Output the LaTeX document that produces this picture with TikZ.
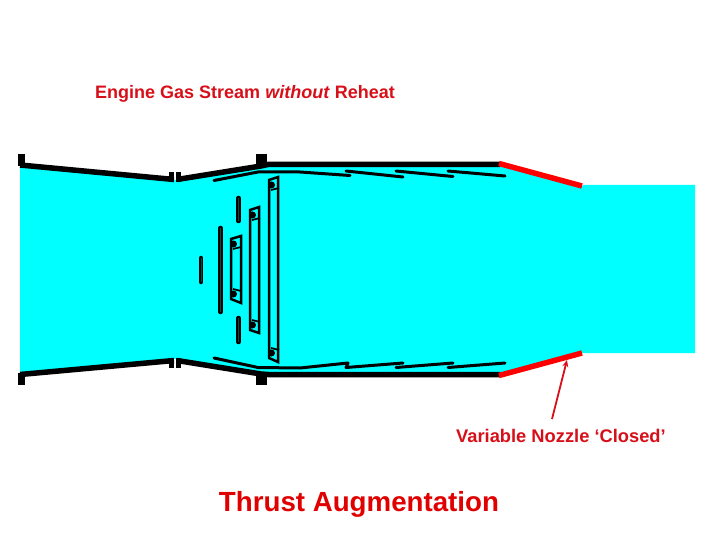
\documentclass[tikz,border=0pt]{standalone}
\usepackage{fontspec}
\setmainfont{Liberation Sans}
\usetikzlibrary{arrows.meta}
\definecolor{gasblue}{RGB}{0,255,255}
\definecolor{labelred}{RGB}{215,15,25}
\definecolor{titlered}{RGB}{225,0,0}
\tikzset{
  casing/.style={line width=5.5pt, line cap=butt, line join=miter},
  liner/.style={line width=3pt, line cap=round, line join=round},
  gutter/.style={line width=2.5pt, line join=miter},
  bar/.style={line width=4.5pt, line cap=round},
  barcore/.style={line width=1pt, color=teal!60!black},
  flap/.style={red, line width=5.5pt, line cap=butt},
  lbl/.style={inner sep=0pt, text=labelred, font=\fontsize{18}{22}\selectfont\bfseries},
}
\begin{document}
\begin{tikzpicture}[x=1pt, y=-1pt]

  \path[use as bounding box] (0,0) rectangle (720,540);

  % gas stream
  \fill[gasblue] (20,167) -- (175,180) -- (265,165) -- (500,165) -- (583,186) -- (583,185) -- (695,185)
    -- (695,353) -- (583,353) -- (500,374) -- (265,374) -- (175,359) -- (20,373) -- cycle;

  % outer casing, top and bottom
  \draw[casing] (20,165) -- (174,179.5);
  \draw[casing] (177,179.5) -- (261,166) -- (268,164.5) -- (500,164.5);
  \draw[casing] (20,374.5) -- (174,360.5);
  \draw[casing] (177,360.5) -- (261,374) -- (268,374.5) -- (500,374.5);
  \fill (18,154) rectangle (25,166);
  \fill (18,373) rectangle (25,385);
  \fill (256,154) rectangle (267,165);
  \fill (256,374) rectangle (267,385);
  \fill (169,172) rectangle (174,182);
  \fill (176,172) rectangle (181,182);
  \fill (169,358) rectangle (174,368);
  \fill (176,358) rectangle (181,368);

  % variable nozzle
  \draw[flap] (499,163.5) -- (582,186);
  \draw[flap] (499,375.5) -- (582,353);

  % liner top
  \draw[liner] (214,180.5) -- (258,172) -- (300,172) -- (350,175.5);
  \draw[liner] (346,171) -- (403,177);
  \draw[liner] (396,171) -- (453,176.5);
  \draw[liner] (448,171) -- (505,176);
  % liner bottom
  \draw[liner] (214,358) -- (258,367.5) -- (300,368) -- (348,363) -- (346,367.5) -- (403,363);
  \draw[liner] (396,367.5) -- (453,363);
  \draw[liner] (448,367.5) -- (505,363);

  % plain bars
  \foreach \x/\ya/\yb in {201/258/282, 220.5/228/312, 238.5/198/221, 238.5/318/342}{
    \draw[bar] (\x,\ya) -- (\x,\yb);
    \draw[barcore] (\x,\ya) -- (\x,\yb);
  }

  % gutters
  \draw[gutter] (231,239) -- (241,236) -- (241,303) -- (231,299) -- cycle;
  \draw[gutter] (250,210) -- (259,207) -- (259,333) -- (250,330) -- cycle;
  \draw[gutter] (269,180) -- (278,177) -- (278,362) -- (269,358) -- cycle;
  \foreach \x/\ya/\yb in {231/239/299, 250/210/330, 269/180/358}{
    \fill (\x+2.5,\ya+5) circle (3.5);
    \fill (\x+2.5,\yb-5) circle (3.5);
    \draw[line width=1.8pt] (\x+2,\ya+10) -- (\x+10,\ya+8);
    \draw[line width=1.8pt] (\x+2,\yb-10) -- (\x+10,\yb-8);
  }

  % arrow to nozzle
  \coordinate (tail) at (552,419);
  \coordinate (tip) at (567,360);
  \draw[labelred, line width=1.8pt, -{Stealth[length=7pt,width=6pt]}] (tail) -- (tip);

  % labels
  \node[lbl, anchor=base west] (stream) at (95,99) {Engine Gas Stream \textit{without} Reheat};
  \node[lbl, anchor=base west, font=\fontsize{18.3}{22}\selectfont\bfseries] (nozzle) at (456,442) {Variable Nozzle ‘Closed’};
  \node[inner sep=0pt, anchor=base, text=titlered, font=\fontsize{27.7}{33}\selectfont\bfseries] (title) at (359,511) {Thrust Augmentation};
\end{tikzpicture}
\end{document}
